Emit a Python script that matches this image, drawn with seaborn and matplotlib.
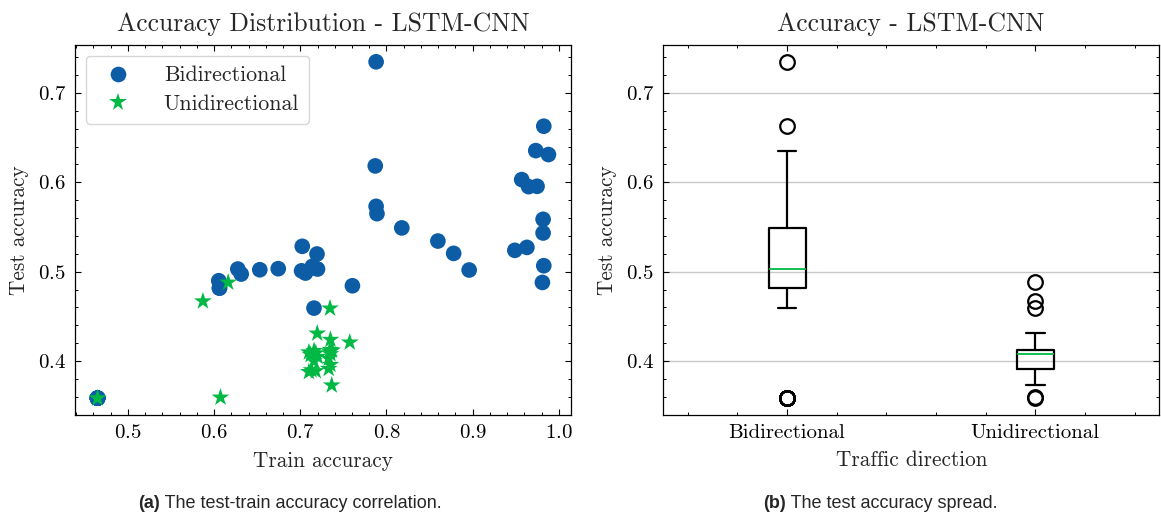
import matplotlib
matplotlib.use("Agg")
import matplotlib.pyplot as plt
from matplotlib.ticker import MultipleLocator
import pandas as pd
import seaborn as sns

# Test/train accuracy of every LSTM-CNN run, split by traffic direction
bidir_train = [0.4647] * 9 + [
    0.788, 0.787, 0.788, 0.789, 0.8178, 0.8597, 0.878, 0.896,
    0.949, 0.963, 0.9818, 0.9818, 0.9826, 0.981, 0.9826, 0.9733,
    0.988, 0.957, 0.965, 0.9748, 0.7605, 0.7159, 0.7023, 0.7194,
    0.7015, 0.706, 0.714, 0.720, 0.6744, 0.653, 0.6275, 0.6314,
    0.6054, 0.6062, 0.6062, 0.717,
]
bidir_test = [0.3586] * 9 + [
    0.7347, 0.6183, 0.5731, 0.5649, 0.549, 0.5343, 0.5205, 0.5019,
    0.5239, 0.5272, 0.5586, 0.5433, 0.5067, 0.488, 0.6627, 0.6354,
    0.631, 0.603, 0.5951, 0.5955, 0.4843, 0.4593, 0.5284, 0.5198,
    0.501, 0.4985, 0.506, 0.503, 0.5034, 0.5022, 0.503, 0.4974,
    0.4899, 0.4817, 0.4817, 0.504,
]
unidir_train = [
    0.4647, 0.6074, 0.7365, 0.710, 0.718, 0.713, 0.733, 0.735,
    0.716, 0.733, 0.720, 0.712, 0.735, 0.718, 0.710, 0.734,
    0.716, 0.737, 0.735, 0.7574, 0.735, 0.7197, 0.7345, 0.587, 0.6163,
]
unidir_test = [
    0.3586, 0.3594, 0.373, 0.388, 0.389, 0.390, 0.3915, 0.396,
    0.400, 0.403, 0.405, 0.407, 0.408, 0.409, 0.410, 0.411,
    0.4115, 0.412, 0.4127, 0.421, 0.424, 0.431, 0.459, 0.467, 0.488,
]
directions = ["Bidirectional", "Unidirectional"]
colors = ["#0C5DA5", "#00B945"]
captions = [("(a)", " The test-train accuracy correlation."),
            ("(b)", " The test accuracy spread.")]

df = pd.DataFrame({
    "train": bidir_train + unidir_train,
    "test": bidir_test + unidir_test,
    "direction": [directions[0]] * len(bidir_train) + [directions[1]] * len(unidir_train),
})

sns.set_style("ticks")
plt.rcParams.update({
    "font.family": ["cmr10", "DejaVu Serif"],
    "axes.formatter.use_mathtext": True,
    "mathtext.fontset": "cm",
    "axes.unicode_minus": False,
    "axes.edgecolor": "black",
    "axes.linewidth": 0.9,
    "xtick.color": "black", "ytick.color": "black",
    "xtick.direction": "in", "ytick.direction": "in",
    "xtick.top": True, "ytick.right": True,
    "xtick.major.size": 4.5, "ytick.major.size": 4.5,
    "xtick.minor.size": 2.3, "ytick.minor.size": 2.3,
    "xtick.major.width": 0.8, "ytick.major.width": 0.8,
    "xtick.minor.width": 0.7, "ytick.minor.width": 0.7,
    "xtick.major.pad": 6.5, "ytick.major.pad": 6.5,
    "xtick.labelsize": 15, "ytick.labelsize": 15,
    "axes.labelsize": 15.3, "axes.titlesize": 18.5,
    "axes.labelpad": 6.5, "axes.titlepad": 10,
    "legend.fontsize": 15.8,
})

W, H = 1161, 519
fig = plt.figure(figsize=(W / 100, H / 100), dpi=100)
ax1 = fig.add_axes([0.0646, 0.2004, 0.4272, 0.7129])
ax2 = fig.add_axes([0.5711, 0.2004, 0.4275, 0.7129])

# Left: test vs. train accuracy
sns.scatterplot(
    data=df, x="train", y="test", hue="direction", style="direction",
    size="direction",
    hue_order=directions, style_order=directions, size_order=directions,
    palette=dict(zip(directions, colors)),
    markers={directions[0]: "o", directions[1]: "*"},
    sizes={directions[0]: 127, directions[1]: 180},
    linewidth=0, ax=ax1,
)
handles, labels = ax1.get_legend_handles_labels()
ax1.legend(handles, labels, loc="upper left", frameon=True, fancybox=True,
           edgecolor="0.8", framealpha=0.8, handletextpad=1.1,
           borderpad=0.45, labelspacing=0.4)
ax1.xaxis.set_major_locator(MultipleLocator(0.1))
ax1.xaxis.set_minor_locator(MultipleLocator(0.02))
ax1.yaxis.set_major_locator(MultipleLocator(0.1))
ax1.yaxis.set_minor_locator(MultipleLocator(0.02))
ax1.set_xlabel("Train accuracy")
ax1.set_ylabel("Test accuracy")
ax1.set_title("Accuracy Distribution - LSTM-CNN")

# Right: spread of test accuracy per direction
sns.boxplot(
    data=df, x="direction", y="test", order=directions, width=0.15,
    fill=False, color="black", linewidth=1.6, whis=1.5,
    medianprops=dict(color=colors[1], linewidth=1.3),
    flierprops=dict(marker="o", markersize=10.5, markerfacecolor="none",
                    markeredgecolor="black", markeredgewidth=1.6),
    ax=ax2,
)
ax2.set_xlim(-0.5, 1.5)
ax2.set_ylim(ax1.get_ylim())
ax2.xaxis.set_minor_locator(MultipleLocator(0.2))
ax2.yaxis.set_major_locator(MultipleLocator(0.1))
ax2.yaxis.set_minor_locator(MultipleLocator(0.02))
ax2.yaxis.grid(True, which="major", color="#c8c8c8", linewidth=1.0)
ax2.set_axisbelow(True)
ax2.set_xlabel("Traffic direction")
ax2.set_ylabel("Test accuracy")
ax2.set_title("Accuracy - LSTM-CNN")

for ax in (ax1, ax2):
    for sp in ax.spines.values():
        sp.set_visible(True)
        sp.set_color("black")

# Sub-figure captions with a bold tag
renderer = fig.canvas.get_renderer()
for cx, (tag, rest) in zip((0.25, 0.758), captions):
    t1 = fig.text(0, 0.03, tag, fontweight="bold", family="Liberation Sans",
                  fontsize=13, va="center")
    t2 = fig.text(0, 0.03, rest, family="Liberation Sans", fontsize=13, va="center")
    w1 = t1.get_window_extent(renderer).width
    w2 = t2.get_window_extent(renderer).width
    x0 = cx * W - (w1 + w2) / 2
    t1.set_x(x0 / W)
    t2.set_x((x0 + w1) / W)

fig.savefig("out.png", dpi=100)
